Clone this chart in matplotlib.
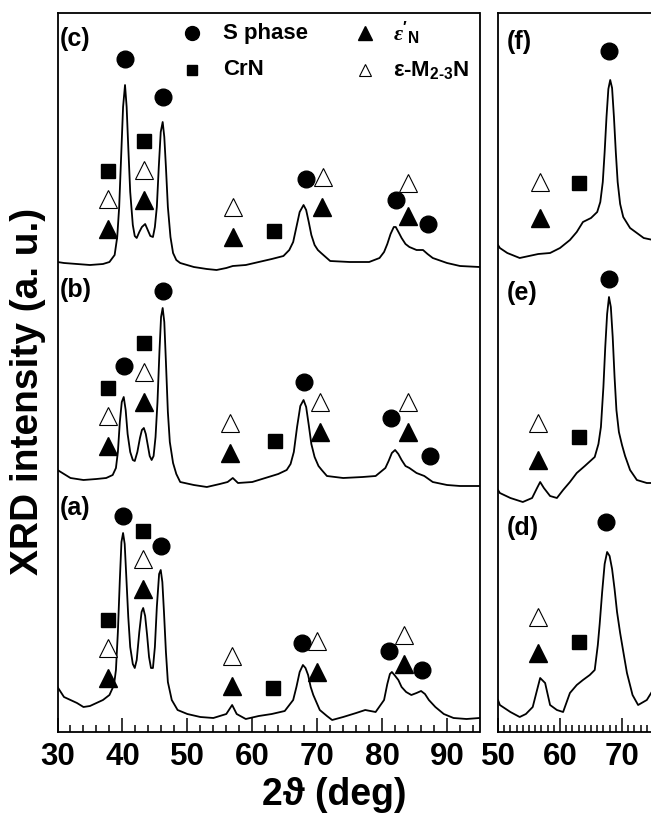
import numpy as np
import matplotlib
matplotlib.use('Agg')
import matplotlib.pyplot as plt
from matplotlib.ticker import MultipleLocator

plt.rcParams['font.family'] = ['Liberation Sans', 'DejaVu Sans']
plt.rcParams['font.weight'] = 'bold'
plt.rcParams['mathtext.fontset'] = 'custom'
plt.rcParams['mathtext.rm'] = 'Liberation Sans:bold'
plt.rcParams['mathtext.bf'] = 'Liberation Sans:bold'
plt.rcParams['mathtext.it'] = 'Liberation Serif:italic'

## ---- traces (2theta in deg, intensity in a.u.) ----
# left panel, 30-95 deg
tt_a = [30, 31, 32, 33, 34, 35, 36, 37, 38, 38.7, 39.0, 39.3, 39.6, 39.85, 40.1, 40.35, 40.6, 40.9, 41.2,
        41.6, 41.9, 42.2, 42.6, 42.95, 43.2, 43.5, 43.8, 44.1, 44.4, 44.7, 45.0, 45.3, 45.65, 45.9, 46.15,
        46.4, 46.7, 47.0, 47.6, 48.5, 50, 52, 54, 56, 56.9, 57.6, 59, 61, 63, 65, 66.3, 66.8, 67.3, 67.8,
        68.2, 68.6, 69.0, 69.4, 70.4, 71.5, 72.3, 74, 76, 77.4, 79, 80.3, 80.8, 81.2, 81.5, 81.9, 82.5,
        83.0, 83.7, 84.5, 85.3, 86.0, 86.6, 87.2, 88.2, 89.5, 91, 93, 95]
int_a = [45, 35, 32, 29, 25, 26, 29, 32, 37, 47, 62, 100, 152, 190, 199, 188, 155, 115, 85,
         68, 64, 72, 100, 120, 124, 116, 97, 75, 64, 64, 85, 125, 158, 162, 150,
         120, 80, 50, 32, 22, 18, 15, 14, 18, 27, 18, 13, 16, 18, 21, 32, 45, 60, 67,
         64, 57, 45, 37, 22, 16, 12, 15, 19, 22, 20, 32, 48, 58, 60, 57, 52,
         45, 40, 37, 39, 41, 38, 32, 25, 18, 14, 13, 14]

tt_b = [30, 31, 32, 34, 36, 37.5, 38.5, 39.0, 39.3, 39.6, 39.9, 40.2, 40.5, 40.8, 41.2, 41.6, 41.9, 42.3,
        42.7, 43.0, 43.3, 43.6, 43.9, 44.2, 44.5, 44.8, 45.1, 45.4, 45.7, 45.95, 46.2, 46.45, 46.7, 47.0,
        47.3, 47.8, 48.3, 48.9, 51, 53, 55, 56.2, 57.0, 57.8, 60, 62, 64, 65.3, 65.9, 66.4, 66.9, 67.4,
        67.9, 68.3, 68.7, 69.1, 69.6, 70.2, 70.7, 71.5, 74, 77, 79, 80.5, 81.0, 81.5, 82.0, 82.5, 83.0,
        83.6, 84.2, 85.3, 86.5, 87.8, 90, 92, 95]
int_b = [262, 258, 254, 252, 253, 254, 257, 264, 280, 310, 330, 335, 322, 298, 280, 272, 271, 280,
         294, 302, 304, 298, 287, 276, 272, 276, 295, 330, 380, 415, 424, 410, 370, 320,
         290, 269, 258, 250, 247, 245, 248, 250, 254, 249, 250, 254, 258, 262, 268, 280, 305, 326,
         332, 325, 307, 288, 275, 266, 262, 256, 254, 255, 256, 264, 271, 279, 282, 278, 272,
         266, 264, 259, 256, 250, 247, 246, 246]

tt_c = [30, 31, 33, 35, 37, 38, 38.8, 39.2, 39.5, 39.8, 40.1, 40.4, 40.65, 40.9, 41.2, 41.6, 41.9, 42.2,
        42.6, 43.0, 43.5, 43.9, 44.3, 44.7, 45.0, 45.3, 45.6, 45.9, 46.2, 46.45, 46.7, 47.0, 47.4, 47.8,
        48.3, 48.9, 51, 53, 54.5, 56, 57, 59, 61, 63, 64.8, 65.7, 66.3, 66.8, 67.3, 67.9, 68.3, 68.7,
        69.1, 69.6, 70.1, 70.6, 72, 75, 78, 79.6, 80.3, 80.8, 81.3, 81.8, 82.1, 82.6, 83.0, 83.6, 84.2,
        85.3, 86.3, 87.0, 87.8, 90, 92, 95]
int_c = [470, 469, 468, 467, 468, 470, 477, 495, 525, 575, 625, 647, 625, 585, 540, 507, 496, 494,
         500, 505, 508, 502, 496, 495, 505, 525, 565, 600, 610, 595, 565, 525, 495, 479,
         472, 469, 465, 463, 462, 464, 466, 467, 470, 473, 476, 482, 490, 505, 520, 527, 522, 510,
         497, 487, 482, 479, 471, 470, 470, 474, 480, 488, 498, 505, 505, 499, 494, 488, 485,
         482, 482, 478, 474, 469, 466, 465]

# right panel, 50-76 deg
tt_d = [50.0, 50.3, 52, 53.5, 54.5, 55.6, 56.3, 56.8, 57.6, 58.4, 59.5, 60.5, 61.6, 62.7, 63.7, 64.8,
        65.6, 66.1, 66.4, 66.8, 67.2, 67.6, 68.0, 68.4, 68.8, 69.2, 69.7, 70.3, 70.8, 71.7, 72.6, 74, 75]
int_d = [32, 27, 20, 15, 18, 25, 42, 54, 49, 27, 22, 20, 39, 47, 52, 57,
         62, 87, 108, 140, 168, 180, 176, 163, 143, 120, 99, 77, 59, 37, 27, 32, 42]

tt_e = [50.0, 50.3, 52, 54, 55.5, 56.3, 56.8, 57.4, 58.4, 59.5, 60.5, 61.6, 62.7, 64, 65.6, 66.2,
        66.6, 67.0, 67.3, 67.6, 67.9, 68.2, 68.5, 68.8, 69.1, 69.5, 70.0, 70.5, 71.3, 72.4, 74, 76]
int_e = [242, 239, 234, 230, 234, 244, 250, 244, 236, 234, 242, 250, 259, 266, 275, 288,
         305, 345, 385, 418, 435, 425, 395, 355, 322, 300, 287, 276, 262, 252, 249, 249]

tt_f = [50.0, 50.3, 51.5, 53.5, 55, 56.5, 58.4, 60, 61.6, 62.7, 63.7, 65, 66.0, 66.5, 66.9, 67.2,
        67.5, 67.8, 68.1, 68.4, 68.7, 69.0, 69.3, 69.7, 70.2, 71.3, 72.4, 73.5, 75, 76]
int_f = [487, 484, 479, 474, 476, 478, 479, 484, 492, 500, 510, 514, 520, 530, 550, 580,
         615, 643, 652, 644, 615, 580, 550, 528, 515, 504, 499, 494, 492, 492]

## ---- phase markers: (phase, 2theta, height) ----
marks_a = [('S', 40.1, 216), ('S', 46.0, 186), ('S', 67.6, 89), ('S', 81.1, 81), ('S', 86.2, 62),
           ('CrN', 43.2, 201), ('CrN', 37.8, 112), ('CrN', 63.2, 44),
           ('epsM', 43.2, 173), ('epsM', 37.8, 84), ('epsM', 56.9, 76), ('epsM', 69.9, 91), ('epsM', 83.3, 97),
           ('epsN', 43.2, 143), ('epsN', 37.8, 54), ('epsN', 56.9, 46), ('epsN', 69.9, 60), ('epsN', 83.3, 68)]
marks_b = [('S', 46.2, 441), ('S', 40.2, 366), ('S', 67.9, 350), ('S', 81.4, 314), ('S', 87.3, 276),
           ('CrN', 37.8, 344), ('CrN', 43.3, 389), ('CrN', 63.5, 291),
           ('epsM', 37.8, 316), ('epsM', 43.3, 360), ('epsM', 56.5, 309), ('epsM', 70.4, 330), ('epsM', 84.0, 330),
           ('epsN', 37.8, 286), ('epsN', 43.3, 330), ('epsN', 56.5, 279), ('epsN', 70.4, 300), ('epsN', 84.0, 300)]
marks_c = [('S', 40.4, 673), ('S', 46.2, 635), ('S', 68.2, 553), ('S', 82.1, 532), ('S', 87.0, 508),
           ('CrN', 37.8, 561), ('CrN', 43.3, 591), ('CrN', 63.3, 501),
           ('epsM', 37.8, 533), ('epsM', 43.3, 562), ('epsM', 57.0, 525), ('epsM', 70.9, 555), ('epsM', 84.0, 549),
           ('epsN', 37.8, 503), ('epsN', 43.3, 532), ('epsN', 57.0, 495), ('epsN', 70.7, 525), ('epsN', 84.0, 516)]
marks_d = [('S', 67.4, 210), ('epsM', 56.5, 115), ('epsN', 56.5, 79), ('CrN', 63.1, 90)]
marks_e = [('S', 67.9, 453), ('epsM', 56.5, 309), ('epsN', 56.5, 272), ('CrN', 63.1, 295)]
marks_f = [('S', 67.9, 681), ('epsM', 56.8, 550), ('epsN', 56.8, 514), ('CrN', 63.1, 549)]

# panel labels (text, 2theta, height)
labels_left = [('(a)', 30.4, 224), ('(b)', 30.4, 442), ('(c)', 30.4, 693)]
labels_right = [('(d)', 51.4, 204), ('(e)', 51.4, 439), ('(f)', 51.4, 690)]

legend_names = {'S': 'S phase', 'CrN': 'CrN',
                'epsN': r"$\varepsilon'_{\mathbf{N}}$",
                'epsM': r'ε-M$_{\mathbf{2\text{-}3}}$N'}

styles = {'S': dict(marker='o', ms=12, mfc='k', mec='k'),
          'CrN': dict(marker='s', ms=10.5, mfc='k', mec='k'),
          'epsN': dict(marker='^', ms=13, mfc='k', mec='k'),
          'epsM': dict(marker='^', ms=13, mfc='white', mec='k', mew=0.8)}


def put_marks(ax, marks):
    for ph, x, y in marks:
        ax.plot(x, y, linestyle='none', **styles[ph])


fig = plt.figure(figsize=(6.51, 8.18), dpi=100)
axL = fig.add_axes([57.5 / 651, 86 / 818, 422 / 651, 719 / 818])
axR = fig.add_axes([498 / 651, 86 / 818, 186 / 651, 719 / 818])

for ax, traces, marks, labs in [(axL, [(tt_a, int_a), (tt_b, int_b), (tt_c, int_c)], [marks_a, marks_b, marks_c], labels_left),
                                (axR, [(tt_d, int_d), (tt_e, int_e), (tt_f, int_f)], [marks_d, marks_e, marks_f], labels_right)]:
    for x, y in traces:
        ax.plot(x, y, color='k', lw=1.3, solid_joinstyle='round')
    for m in marks:
        put_marks(ax, m)
    for t, x, y in labs:
        ax.text(x, y, t, fontsize=18, fontweight='bold', ha='left', va='center')
    ax.set_ylim(0, 719)
    ax.set_yticks([])
    for sp in ax.spines.values():
        sp.set_linewidth(1.3)
    ax.tick_params(axis='x', which='both', direction='in', top=False, labelsize=22.5, pad=7, width=1.1)
    ax.tick_params(axis='x', which='major', length=10)
    ax.tick_params(axis='x', which='minor', length=5)

axL.set_xlim(30, 95)
axL.set_xticks([30, 40, 50, 60, 70, 80, 90])
axL.xaxis.set_minor_locator(MultipleLocator(2))
axR.set_xlim(50, 80)
axR.set_xticks([50, 60, 70])
axR.xaxis.set_minor_locator(MultipleLocator(1))
for ax in (axL, axR):
    for lab in ax.get_xticklabels():
        lab.set_fontweight('bold')

# legend block (top of the left panel)
leg_keys = [('S', 0.319, 0.972), ('CrN', 0.319, 0.921), ('epsN', 0.729, 0.972), ('epsM', 0.729, 0.921)]
leg_ms = {'S': 10, 'CrN': 7.5, 'epsN': 9.5, 'epsM': 8}
for ph, kx, ky in leg_keys:
    st = dict(styles[ph])
    st['ms'] = leg_ms[ph]
    axL.plot(kx, ky, transform=axL.transAxes, linestyle='none', **st)
    tx = kx + 0.073 if ph in ('S', 'CrN') else kx + 0.066
    axL.text(tx, ky, legend_names[ph], transform=axL.transAxes, fontsize=16,
             fontweight='bold', ha='left', va='center')

fig.text(334 / 651, 13 / 818, '2ϑ (deg)', fontsize=27, fontweight='bold', ha='center', va='baseline')
fig.text(28 / 651, 1 - 391 / 818, 'XRD intensity (a. u.)', fontsize=28, fontweight='bold',
         rotation=90, ha='center', va='center')

plt.savefig('out.png', dpi=100)
